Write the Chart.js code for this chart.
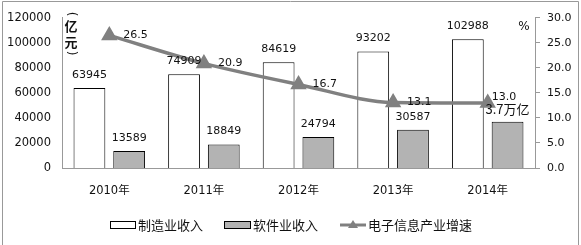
<!DOCTYPE html>
<html>
<head>
<meta charset="utf-8">
<script src="https://cdn.jsdelivr.net/npm/chart.js@4.4.1/dist/chart.umd.min.js"></script>
<style>
  html, body { margin: 0; padding: 0; background: #fff; }
  #wrap { width: 581px; height: 245px; position: relative; }
</style>
</head>
<body>
<div id="wrap"><canvas id="chart" width="581" height="245"></canvas></div>
<script>
const years = ['2010年', '2011年', '2012年', '2013年', '2014年'];
const manufacturing = [63945, 74909, 84619, 93202, 102988];
const software = [13589, 18849, 24794, 30587, 37000];
const softwareLabels = ['13589', '18849', '24794', '30587', '3.7万亿'];
const growth = [26.5, 20.9, 16.7, 13.1, 13.0];
const seriesNames = ['制造业收入', '软件业收入', '电子信息产业增速'];

const FONT = '"DejaVu Sans", "Noto Sans CJK SC", sans-serif';
const CJK = '"Noto Sans CJK SC", "DejaVu Sans", sans-serif';
const GRAY_LINE = '#808080';
const GRAY_BAR = '#b3b3b3';

// value labels, axis unit labels, frame and legend
const extrasPlugin = {
    id: 'extras',
    afterDraw(chart) {
        const ctx = chart.ctx;
        ctx.save();

        // bar labels
        ctx.fillStyle = '#111';
        ctx.textAlign = 'center';
        ctx.textBaseline = 'middle';
        [0, 1].forEach(di => {
            const meta = chart.getDatasetMeta(di);
            const labels = di === 0 ? manufacturing.map(String) : softwareLabels;
            meta.data.forEach((bar, i) => {
                const txt = labels[i];
                ctx.font = /[^\d.]/.test(txt) ? '13px ' + CJK : '11px ' + FONT;
                ctx.fillText(txt, bar.x, bar.y - 13);
            });
        });

        // line labels
        const lm = chart.getDatasetMeta(2);
        ctx.font = '11px ' + FONT;
        ctx.textAlign = 'left';
        lm.data.forEach((pt, i) => {
            const dx = i === 4 ? 4 : 14;
            const dy = i === 4 ? -6 : 0;
            ctx.fillText(growth[i].toFixed(1), pt.x + dx, pt.y + dy);
        });

        // unit label (亿元), written vertically with turned brackets
        ctx.textAlign = 'center';
        ctx.font = 'bold 13px ' + CJK;
        ctx.fillText('亿', 71, 26);
        ctx.fillText('元', 71, 42);
        ctx.font = '12px ' + FONT;
        [['(', 14], [')', 53]].forEach(([ch, y]) => {
            ctx.save();
            ctx.translate(71, y);
            ctx.rotate(Math.PI / 2);
            ctx.fillText(ch, 0, 0);
            ctx.restore();
        });
        ctx.fillText('%', 524, 27);

        // outer frame
        ctx.strokeStyle = '#999';
        ctx.lineWidth = 1;
        ctx.beginPath();
        ctx.moveTo(2.5, 245);
        ctx.lineTo(2.5, 1.5);
        ctx.lineTo(578.5, 1.5);
        ctx.lineTo(578.5, 245);
        ctx.stroke();

        // legend
        const ly = 225;
        ctx.font = '13px ' + CJK;
        ctx.textAlign = 'left';
        ctx.fillStyle = '#fff';
        ctx.strokeStyle = '#000';
        ctx.fillRect(110.5, 221.5, 25, 7);
        ctx.strokeRect(110.5, 221.5, 25, 7);
        ctx.fillStyle = GRAY_BAR;
        ctx.fillRect(224.5, 221.5, 26, 7);
        ctx.strokeRect(224.5, 221.5, 26, 7);
        ctx.strokeStyle = GRAY_LINE;
        ctx.lineWidth = 3;
        ctx.beginPath();
        ctx.moveTo(340, ly);
        ctx.lineTo(366, ly);
        ctx.stroke();
        ctx.fillStyle = GRAY_LINE;
        ctx.beginPath();
        ctx.moveTo(353, ly - 5);
        ctx.lineTo(358, ly + 3);
        ctx.lineTo(348, ly + 3);
        ctx.closePath();
        ctx.fill();
        ctx.fillStyle = '#111';
        ctx.fillText(seriesNames[0], 138, ly);
        ctx.fillText(seriesNames[1], 253, ly);
        ctx.fillText(seriesNames[2], 368, ly);

        ctx.restore();
    }
};

new Chart(document.getElementById('chart'), {
    type: 'bar',
    data: {
        labels: years,
        datasets: [
            {
                label: seriesNames[0],
                data: manufacturing,
                backgroundColor: '#fff',
                borderColor: '#000',
                borderWidth: 1,
                yAxisID: 'y',
                order: 1,
                categoryPercentage: 0.84,
                barPercentage: 0.8
            },
            {
                label: seriesNames[1],
                data: software,
                backgroundColor: GRAY_BAR,
                borderColor: '#000',
                borderWidth: 1,
                yAxisID: 'y',
                order: 1,
                categoryPercentage: 0.84,
                barPercentage: 0.8
            },
            {
                type: 'line',
                label: seriesNames[2],
                data: growth,
                yAxisID: 'y1',
                borderColor: GRAY_LINE,
                backgroundColor: GRAY_LINE,
                borderWidth: 3.5,
                cubicInterpolationMode: 'monotone',
                pointStyle: 'triangle',
                pointRadius: 6,
                pointBackgroundColor: GRAY_LINE,
                pointBorderColor: GRAY_LINE,
                order: 0
            }
        ]
    },
    options: {
        responsive: false,
        animation: false,
        devicePixelRatio: 1,
        layout: { padding: { top: 16, bottom: 0, left: 0, right: 0 } },
        plugins: { legend: { display: false }, tooltip: { enabled: false } },
        scales: {
            x: {
                grid: { display: false, drawTicks: false },
                border: { display: true, color: '#999' },
                ticks: { color: '#111', font: { family: FONT, size: 11.5 }, padding: 16, maxRotation: 0 },
                afterFit(scale) { scale.height = 77; }
            },
            y: {
                position: 'left',
                min: 0,
                max: 120000,
                grid: { display: false, drawTicks: false },
                border: { display: true, color: '#999' },
                ticks: {
                    stepSize: 20000,
                    color: '#111',
                    font: { family: FONT, size: 11.5 },
                    padding: 11,
                    callback: v => String(v)
                },
                afterFit(scale) { scale.width = 62; }
            },
            y1: {
                position: 'right',
                min: 0,
                max: 30,
                grid: { display: true, drawOnChartArea: false, drawTicks: true, tickLength: 5, color: '#999' },
                border: { display: true, color: '#999' },
                ticks: {
                    stepSize: 5,
                    color: '#111',
                    font: { family: FONT, size: 11 },
                    padding: 7,
                    callback: v => v.toFixed(1)
                },
                afterFit(scale) { scale.width = 46; }
            }
        }
    },
    plugins: [extrasPlugin]
});
</script>
</body>
</html>
